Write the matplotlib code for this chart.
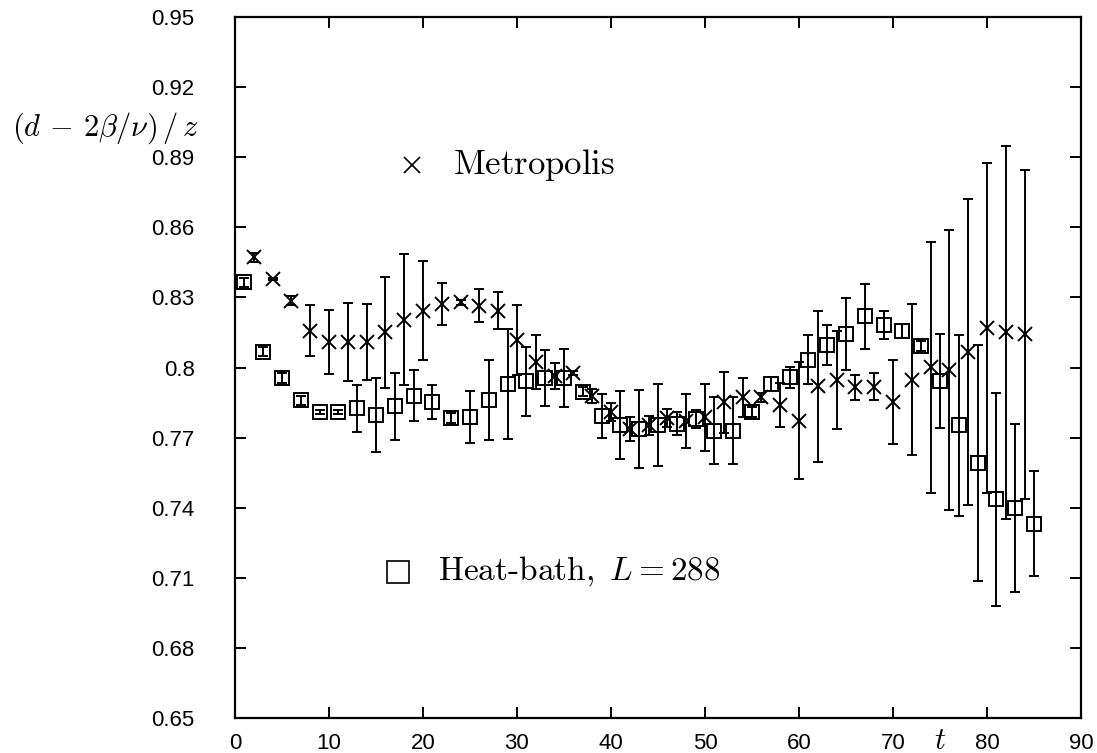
import matplotlib
matplotlib.use("Agg")
import matplotlib.pyplot as plt

plt.rcParams['mathtext.fontset'] = 'cm'

# heat-bath, odd t
t_hb = [1, 3, 5, 7, 9, 11, 13, 15, 17, 19, 21, 23, 25, 27, 29, 31, 33, 35, 37, 39, 41, 43,
        45, 47, 49, 51, 53, 55, 57, 59, 61, 63, 65, 67, 69, 71, 73, 75, 77, 79, 81, 83, 85]
y_hb = [0.8364, 0.8068, 0.7955, 0.7859, 0.7809, 0.7810, 0.7826, 0.7797, 0.7834, 0.7880,
        0.7851, 0.7784, 0.7787, 0.7859, 0.7930, 0.7941, 0.7954, 0.7955, 0.7897, 0.7794,
        0.7754, 0.7737, 0.7754, 0.7759, 0.7780, 0.7730, 0.7730, 0.7809, 0.7930, 0.7958,
        0.8034, 0.8096, 0.8143, 0.8220, 0.8180, 0.8157, 0.8092, 0.7942, 0.7752, 0.7592,
        0.7437, 0.7399, 0.7331]
e_hb = [0.002, 0.002, 0.002, 0.002, 0.001, 0.001, 0.010, 0.016, 0.0144, 0.0108,
        0.0073, 0.002, 0.0112, 0.0171, 0.0235, 0.0147, 0.012, 0.0123, 0.002, 0.0094,
        0.0147, 0.0166, 0.0174, 0.005, 0.004, 0.0142, 0.0143, 0.002, 0.003, 0.0046,
        0.0103, 0.0084, 0.0154, 0.0139, 0.006, 0.003, 0.002, 0.020, 0.0388, 0.0504,
        0.0456, 0.0359, 0.0224]

# metropolis, even t
t_met = [2, 4, 6, 8, 10, 12, 14, 16, 18, 20, 22, 24, 26, 28, 30, 32, 34, 36, 38, 40, 42,
         44, 46, 48, 50, 52, 54, 56, 58, 60, 62, 64, 66, 68, 70, 72, 74, 76, 78, 80, 82, 84]
y_met = [0.8471, 0.8378, 0.8286, 0.8158, 0.8110, 0.8110, 0.8110, 0.8150, 0.8205, 0.8243,
         0.8271, 0.8279, 0.8264, 0.8243, 0.8119, 0.8022, 0.7965, 0.7977, 0.7880, 0.7809,
         0.7737, 0.7752, 0.7784, 0.7770, 0.7787, 0.7851, 0.7873, 0.7873, 0.7840, 0.7773,
         0.7920, 0.7948, 0.7915, 0.7918, 0.7854, 0.7948, 0.8001, 0.7990, 0.8066, 0.8168,
         0.8150, 0.8142]
e_met = [0.002, 0.0005, 0.002, 0.011, 0.0138, 0.0166, 0.0163, 0.0237, 0.0281, 0.0212,
         0.0089, 0.001, 0.007, 0.008, 0.015, 0.0116, 0.0056, 0.001, 0.003, 0.004,
         0.005, 0.004, 0.004, 0.0115, 0.0143, 0.013, 0.0083, 0.002, 0.0095, 0.0251,
         0.0323, 0.021, 0.0053, 0.0057, 0.018, 0.0324, 0.0536, 0.060, 0.0654, 0.0707,
         0.0797, 0.0704]

yticks = [0.65, 0.68, 0.71, 0.74, 0.77, 0.8, 0.83, 0.86, 0.89, 0.92, 0.95]
ytick_labels = ['0.65', '0.68', '0.71', '0.74', '0.77', '0.8', '0.83', '0.86', '0.89', '0.92', '0.95']
xticks = [0, 10, 20, 30, 40, 50, 60, 70, 80, 90]

fig = plt.figure(figsize=(10.97, 7.53), dpi=100)
ax = fig.add_axes([0.2142, 0.0465, 0.7712, 0.9309])

ax.errorbar(t_hb, y_hb, yerr=e_hb, fmt='s', mfc='none', mec='black', ms=9.5, mew=1.4,
            ecolor='black', elinewidth=1.4, capsize=3.3, capthick=1.4)
ax.errorbar(t_met, y_met, yerr=e_met, fmt='x', color='black', ms=9.5, mew=1.4,
            ecolor='black', elinewidth=1.4, capsize=3.3, capthick=1.4)

ax.set_xlim(0, 90)
ax.set_ylim(0.65, 0.95)
ax.set_xticks(xticks)
ax.set_yticks(yticks)
ax.set_yticklabels(ytick_labels)
ax.tick_params(direction='in', length=8, width=1.4, top=True, right=True,
               labelsize=16)
ax.tick_params(axis='y', pad=29)
ax.tick_params(axis='x', pad=11)
for lab in ax.get_xticklabels() + ax.get_yticklabels():
    lab.set_fontfamily('Liberation Sans')
for s in ax.spines.values():
    s.set_linewidth(1.6)

# legend as text
ax.plot([18.8], [0.8865], marker='x', color='black', ms=11, mew=1.2, ls='none')
ax.text(23.2, 0.8865, r'$\mathrm{Metropolis}$', fontsize=25, va='center', ha='left')
ax.plot([17.3], [0.7125], marker='s', mfc='none', mec='black', ms=16, mew=1.2, ls='none')
ax.text(21.6, 0.7125, r'$\mathrm{Heat\text{-}bath,}\ L=288$', fontsize=24, va='center', ha='left')

fig.text(0.011, 0.830, r'$(d\,-\,2\beta/\nu)\,/\,z$', fontsize=22, va='center', ha='left')
fig.text(0.857, 0.017, r'$t$', fontsize=22, va='center', ha='center')

fig.savefig('out.png', dpi=100)
